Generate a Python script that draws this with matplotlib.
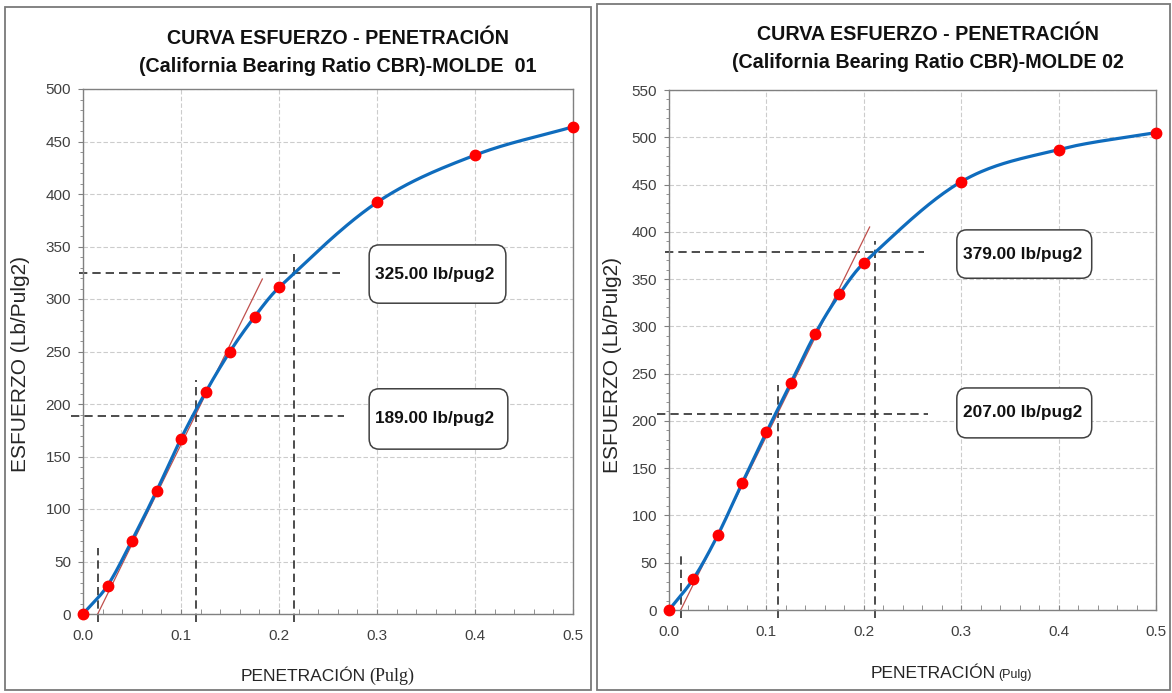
# -*- coding: utf-8 -*-
"""
Curva esfuerzo - penetracion (CBR), moldes 01 y 02
"""
import numpy as np
import matplotlib
matplotlib.use('Agg')
import matplotlib.pyplot as plt
from matplotlib.patches import Rectangle, FancyBboxPatch
from matplotlib.ticker import MultipleLocator, FormatStrFormatter

###############################################################################
''' Datos '''
penetracion = [0.0, 0.025, 0.05, 0.075, 0.1, 0.125, 0.15, 0.175, 0.2, 0.3, 0.4, 0.5]
esfuerzo_m01 = [0, 27, 70, 117, 167, 211, 250, 283, 311, 392, 437, 464]
esfuerzo_m02 = [0, 33, 79, 134, 188, 240, 292, 334, 367, 453, 487, 505]

titulo_molde = ['MOLDE  01', 'MOLDE 02']
y_max = [500, 550]

# correccion por concavidad inicial
x_cero = [0.015, 0.012]            # origen corregido (pulg)
pendiente = [1899, 2088]            # pendiente de la tangente
x_tangente_fin = [0.183, 0.206]
esf_corr_01 = [189.0, 325.0]        # molde 01 a 0.1" y 0.2"
esf_corr_02 = [207.0, 379.0]        # molde 02 a 0.1" y 0.2"
alto_guia = [[63, 223, 343], [58, 238, 390]]

###############################################################################
''' Config '''
SANS = ['Liberation Sans', 'DejaVu Sans']
SERIF = ['Liberation Serif', 'DejaVu Serif']
BLUE = '#0f6cbd'
RED = '#ff0000'
DASH = (0, (5, 3))


def curva_suave(x, y, n=40):
    # spline cubica de hermite solo para dibujar la linea suavizada
    x = np.asarray(x, float)
    y = np.asarray(y, float)
    m = np.zeros_like(y)
    m[0] = (y[1] - y[0]) / (x[1] - x[0])
    m[-1] = (y[-1] - y[-2]) / (x[-1] - x[-2])
    m[1:-1] = (y[2:] - y[:-2]) / (x[2:] - x[:-2])
    xs, ys = [], []
    t = np.linspace(0, 1, n)
    for k in range(len(x) - 1):
        h = x[k + 1] - x[k]
        h00 = 2 * t ** 3 - 3 * t ** 2 + 1
        h10 = t ** 3 - 2 * t ** 2 + t
        h01 = -2 * t ** 3 + 3 * t ** 2
        h11 = t ** 3 - t ** 2
        xs.append(x[k] + t * h)
        ys.append(h00 * y[k] + h10 * h * m[k] + h01 * y[k + 1] + h11 * h * m[k + 1])
    return np.concatenate(xs), np.concatenate(ys)


def draw_panel(ax, esfuerzo, i, corr, box_pos, ylab_pos, xlab_pos, pulg_font):
    ax.set_xlim(0, 0.5)
    ax.set_ylim(0, y_max[i])
    ax.xaxis.set_major_locator(MultipleLocator(0.1))
    ax.xaxis.set_minor_locator(MultipleLocator(0.02))
    ax.xaxis.set_major_formatter(FormatStrFormatter('%.1f'))
    ax.yaxis.set_major_locator(MultipleLocator(50))
    ax.yaxis.set_minor_locator(MultipleLocator(10))
    ax.grid(True, which='major', color='#cccccc', linestyle=(0, (4, 2)), linewidth=0.8)
    for s in ax.spines.values():
        s.set_color('#808080')
        s.set_linewidth(1.0)
    ax.tick_params(axis='y', which='both', direction='out', colors='#808080',
                   labelcolor='#404040', labelsize=11, pad=5)
    ax.tick_params(axis='y', which='major', length=3.5)
    ax.tick_params(axis='y', which='minor', length=2.5)
    ax.tick_params(axis='x', which='both', direction='in', colors='#808080',
                   labelcolor='#404040', labelsize=11, pad=11)
    ax.tick_params(axis='x', which='both', length=3.5)
    for lab in ax.get_xticklabels() + ax.get_yticklabels():
        lab.set_family(SANS)

    # guias discontinuas
    x0 = x_cero[i]
    g = alto_guia[i]
    kw = dict(color='#2e2e2e', lw=1.2, ls=DASH, clip_on=False)
    ax.plot([x0, x0], [-8, g[0]], **kw)
    ax.plot([0.1 + x0, 0.1 + x0], [-8, g[1]], **kw)
    ax.plot([0.2 + x0, 0.2 + x0], [-8, g[2]], **kw)
    ax.plot([-0.012, 0.266], [corr[0], corr[0]], **kw)
    ax.plot([-0.004, 0.262], [corr[1], corr[1]], **kw)

    # tangente
    xt = np.array([x0, x_tangente_fin[i]])
    ax.plot(xt, pendiente[i] * (xt - x0), color='#c0504d', lw=0.9)

    # curva y puntos
    xs, ys = curva_suave(penetracion, esfuerzo)
    ax.plot(xs, ys, color=BLUE, lw=2.3, zorder=4, clip_on=False)
    ax.plot(penetracion, esfuerzo, 'o', color=RED, markersize=7.5, zorder=5, clip_on=False)

    # cajas con valores corregidos
    for val, (bx, by, bw, bh) in zip([corr[1], corr[0]], box_pos):
        ax.add_patch(FancyBboxPatch((bx, by), bw, bh, boxstyle='round,pad=0,rounding_size=0.02',
                                    transform=ax.transAxes, facecolor='white',
                                    edgecolor='#404040', lw=1.1, zorder=6, clip_on=False))
        ax.text(bx + 0.012, by + bh / 2, '%.2f lb/pug2' % val, transform=ax.transAxes,
                ha='left', va='center', fontsize=12.4, fontweight='bold',
                family=SANS, color='#111111', zorder=7)

    ax.text(ylab_pos[0], ylab_pos[1], 'ESFUERZO (Lb/Pulg2)', transform=ax.transAxes,
            rotation=90, ha='center', va='center', fontsize=15, family=SANS, color='#262626')
    ax.text(xlab_pos[0], xlab_pos[1], 'PENETRACIÓN', transform=ax.transAxes,
            ha='right', va='baseline', fontsize=12.5, family=SANS, color='#262626')
    ax.text(xlab_pos[0] + 0.006, xlab_pos[1], '(Pulg)', transform=ax.transAxes,
            ha='left', va='baseline', color='#262626', **pulg_font)


###############################################################################
''' Figura '''
W, H = 1172, 693
fig = plt.figure(figsize=(W / 100, H / 100), dpi=100)


def fx(px):
    return px / W


def fy(py):
    return 1 - py / H


# marcos de cada grafico
fig.patches.append(Rectangle((fx(5), fy(690)), fx(586), 683 / H, transform=fig.transFigure,
                             fill=False, edgecolor='#7a7a7a', lw=1.3))
fig.patches.append(Rectangle((fx(597), fy(690)), fx(573), 686 / H, transform=fig.transFigure,
                             fill=False, edgecolor='#7a7a7a', lw=1.3))

ax1 = fig.add_axes([fx(83), fy(614), fx(490), 525 / H])
ax2 = fig.add_axes([fx(669), fy(610), fx(487), 520 / H])

draw_panel(ax1, esfuerzo_m01, 0, esf_corr_01,
           [(0.584, 0.592, 0.279, 0.111), (0.584, 0.314, 0.283, 0.115)],
           (-0.128, 0.476), (0.578, -0.128),
           dict(fontsize=13, family=SERIF))
draw_panel(ax2, esfuerzo_m02, 1, esf_corr_02,
           [(0.591, 0.638, 0.277, 0.093), (0.591, 0.331, 0.277, 0.096)],
           (-0.117, 0.471), (0.670, -0.131),
           dict(fontsize=9, family=SANS))

for cx, t1y, t2y, k in [(338, 38, 67, 0), (928, 34, 62, 1)]:
    fig.text(fx(cx), fy(t1y), 'CURVA ESFUERZO - PENETRACIÓN', ha='center', va='center',
             fontsize=14.2, fontweight='bold', family=SANS, color='#111111')
    fig.text(fx(cx), fy(t2y), '(California Bearing Ratio CBR)-' + titulo_molde[k],
             ha='center', va='center', fontsize=14.2, fontweight='bold', family=SANS,
             color='#111111')

fig.savefig('out.png', dpi=100)
